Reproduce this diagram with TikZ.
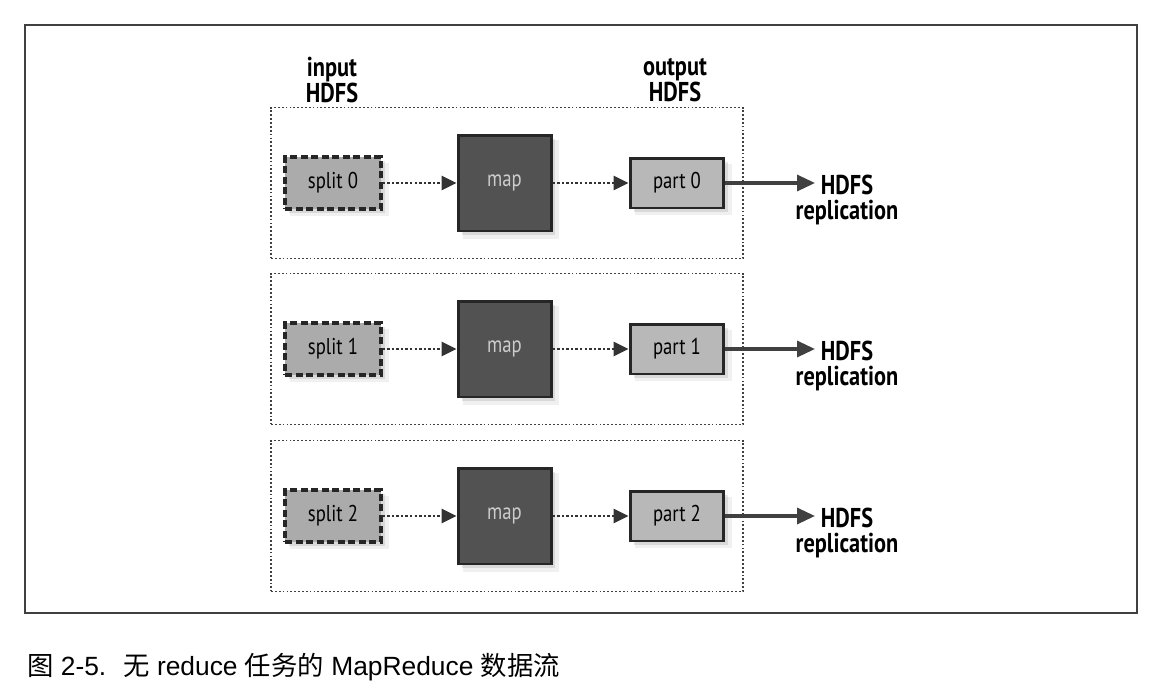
\documentclass[tikz,border=0pt]{standalone}
\usepackage{fontspec}
\setmainfont{PT Sans}[FakeStretch=0.82]
\newfontfamily\capfont{Liberation Sans}
\newfontfamily\cjk{Noto Sans CJK SC}
\usetikzlibrary{arrows.meta,positioning,shadows}

\begin{document}
\begin{tikzpicture}[
    x=0.02cm, y=-0.02cm,
    node distance=1.5cm,
    shadowed/.style={drop shadow={opacity=0.12, shadow xshift=3.5pt, shadow yshift=-3.5pt, shadow scale=1.03},
                     drop shadow={opacity=0.2, shadow xshift=2pt, shadow yshift=-2pt}},
    splitbox/.style={rectangle, draw=black!85, dash pattern=on 4pt off 2pt, line width=1.8pt, fill=black!33, minimum width=1.92cm, minimum height=1.04cm, font=\fontsize{13}{13}\selectfont, shadowed},
    mapbox/.style={rectangle, draw=black!85, line width=1.7pt, fill=black!68, text=white!80!black, minimum width=1.86cm, minimum height=1.92cm, font=\fontsize{13}{13}\selectfont, shadowed},
    partbox/.style={rectangle, draw=black!85, line width=1.7pt, fill=black!28, minimum width=1.88cm, minimum height=1.0cm, font=\fontsize{13}{13}\selectfont, shadowed},
    stage/.style={rectangle, draw=black!75, dash pattern=on 1pt off 1.2pt, line width=0.9pt, minimum width=9.44cm, minimum height=3.02cm},
    heading/.style={align=center, font=\bfseries\fontsize{15.5}{14.5}\selectfont},
    flow/.style={-{Triangle[length=3mm, width=2.8mm]}, dash pattern=on 1.4pt off 1.2pt, line width=1.6pt, draw=black!80},
    outflow/.style={-{Triangle[length=3.6mm, width=3.2mm]}, line width=1.9pt, draw=black!75},
]
    \useasboundingbox (0,0) rectangle (1170,690);
    \node[draw=black!75, line width=0.9pt, minimum width=22.24cm, minimum height=11.76cm] (frame) at (581,319) {};

    \node[heading] (input) at (332,80) {input\\HDFS};
    \node[heading] (output) at (675,80) {output\\HDFS};

    \foreach \i/\y in {0/183,1/349,2/516} {
        \node[stage] (box\i) at (507,\y) {};
        \node[splitbox] (split\i) at (333,\y) {split \i};
        \node[mapbox, right=1.48cm of split\i] (map\i) {map};
        \node[partbox, right=1.52cm of map\i] (part\i) {part \i};
        \coordinate (hdfs\i) at (815,\y);
        \node[heading, anchor=north, yshift=0.29cm] (repl\i) at (847,\y) {HDFS\\replication};
        \draw[flow] (split\i) -- (map\i);
        \draw[flow] (map\i) -- (part\i);
        \draw[outflow] (part\i) -- (hdfs\i);
    }

    \node[anchor=west, font=\fontsize{15}{15}\selectfont] (caption) at (21,667)
        {{\cjk 图}\capfont{} 2-5.~ {\cjk 无} reduce {\cjk 任务的} MapReduce {\cjk 数据流}};
\end{tikzpicture}
\end{document}
